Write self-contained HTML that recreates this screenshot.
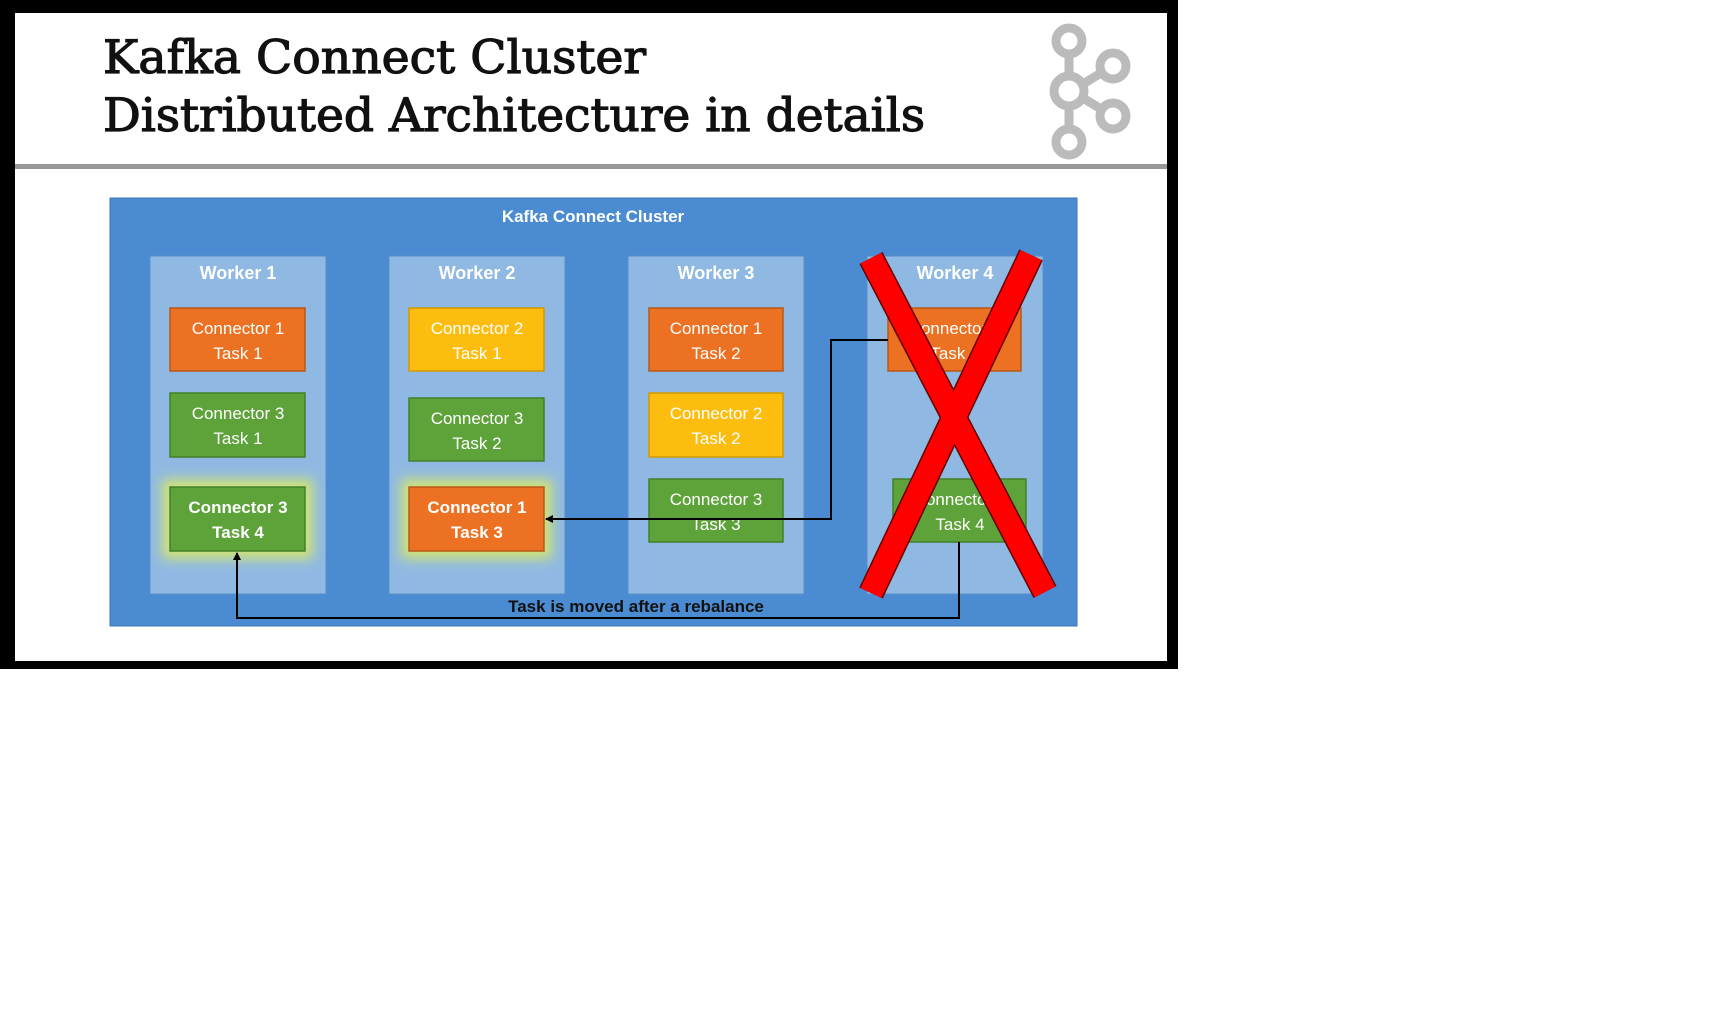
<!DOCTYPE html>
<html><head><meta charset="utf-8"><style>
html,body{margin:0;padding:0;background:#fff;}
svg{display:block}
</style></head><body>
<svg width="1713" height="1022" xmlns="http://www.w3.org/2000/svg" font-family="Liberation Sans, sans-serif">
<defs>
<filter id="glow" x="-30%" y="-30%" width="160%" height="160%"><feGaussianBlur stdDeviation="6"/></filter>
<marker id="ar" markerWidth="8" markerHeight="8" refX="7" refY="4" orient="auto" markerUnits="userSpaceOnUse"><path d="M0,0 L8,4 L0,8 z" fill="#000"/></marker>
</defs>
<rect x="0" y="0" width="1178" height="669" fill="#000"/>
<rect x="15" y="13" width="1152" height="648" fill="#fff"/>
<text x="103" y="73" font-family="DejaVu Serif, Liberation Serif, serif" font-size="46" fill="#111" stroke="#111" stroke-width="1.2" textLength="543" lengthAdjust="spacingAndGlyphs">Kafka Connect Cluster</text>
<text x="103" y="131" font-family="DejaVu Serif, Liberation Serif, serif" font-size="46" fill="#111" stroke="#111" stroke-width="1.2" textLength="822" lengthAdjust="spacingAndGlyphs">Distributed Architecture in details</text>
<rect x="15" y="164" width="1152" height="5" fill="#999"/>
<g fill="none" stroke="#bbb" stroke-width="9">
<circle cx="1069" cy="41" r="13"/><circle cx="1069" cy="91" r="15"/><circle cx="1069" cy="142" r="13"/>
<circle cx="1113" cy="66" r="13"/><circle cx="1113" cy="116" r="13"/>
<line x1="1069" y1="54" x2="1069" y2="76"/><line x1="1069" y1="106" x2="1069" y2="129"/>
<line x1="1083" y1="84" x2="1101" y2="73"/><line x1="1083" y1="98" x2="1101" y2="109"/>
</g>
<rect x="110" y="198" width="967" height="428" fill="#4a8bd1" stroke="#3a75b5"/>
<text x="593" y="222" text-anchor="middle" font-size="17" font-weight="bold" fill="#fff">Kafka Connect Cluster</text>
<g fill="#8fb9e2" stroke="#5a8fc8">
<rect x="150" y="256" width="176" height="338"/><rect x="389" y="256" width="176" height="338"/>
<rect x="628" y="256" width="176" height="338"/><rect x="867" y="256" width="176" height="338"/>
</g>
<g font-size="18" font-weight="bold" fill="#fff" text-anchor="middle">
<text x="238" y="279">Worker 1</text><text x="477" y="279">Worker 2</text><text x="716" y="279">Worker 3</text><text x="955" y="279">Worker 4</text>
</g>
<rect x="162" y="479" width="151" height="80" fill="#d8e86a" filter="url(#glow)" opacity="0.9"/>
<rect x="401" y="479" width="151" height="80" fill="#d8e86a" filter="url(#glow)" opacity="0.9"/>
<g stroke-width="1.5" font-size="17" text-anchor="middle">
<rect x="170" y="308" width="135" height="63" fill="#ec7122" stroke="#b85818"/>
<rect x="170" y="393" width="135" height="64" fill="#5ea23a" stroke="#44802a"/>
<rect x="170" y="487" width="135" height="64" fill="#5ea23a" stroke="#44802a"/>
<rect x="409" y="308" width="135" height="63" fill="#fdbd0f" stroke="#d09a00"/>
<rect x="409" y="398" width="135" height="63" fill="#5ea23a" stroke="#44802a"/>
<rect x="409" y="487" width="135" height="64" fill="#ec7122" stroke="#b85818"/>
<rect x="649" y="308" width="134" height="63" fill="#ec7122" stroke="#b85818"/>
<rect x="649" y="393" width="134" height="64" fill="#fdbd0f" stroke="#d09a00"/>
<rect x="649" y="479" width="134" height="63" fill="#5ea23a" stroke="#44802a"/>
<rect x="888" y="308" width="133" height="63" fill="#ec7122" stroke="#b85818"/>
<rect x="893" y="479" width="133" height="63" fill="#5ea23a" stroke="#44802a"/>
</g>
<g font-size="17" fill="#fff" text-anchor="middle">
<text x="238" y="334">Connector 1</text><text x="238" y="359">Task 1</text>
<text x="238" y="419">Connector 3</text><text x="238" y="444">Task 1</text>
<text x="238" y="513" font-weight="bold">Connector 3</text><text x="238" y="538" font-weight="bold">Task 4</text>
<text x="477" y="334">Connector 2</text><text x="477" y="359">Task 1</text>
<text x="477" y="424">Connector 3</text><text x="477" y="449">Task 2</text>
<text x="477" y="513" font-weight="bold">Connector 1</text><text x="477" y="538" font-weight="bold">Task 3</text>
<text x="716" y="334">Connector 1</text><text x="716" y="359">Task 2</text>
<text x="716" y="419">Connector 2</text><text x="716" y="444">Task 2</text>
<text x="716" y="505">Connector 3</text><text x="716" y="530">Task 3</text>
<text x="955" y="334">Connector 1</text><text x="955" y="359">Task 1</text>
<text x="960" y="505">Connector 3</text><text x="960" y="530">Task 4</text>
</g>
<g fill="none" stroke="#000" stroke-width="2">
<polyline points="888,340 831,340 831,519 546,519" marker-end="url(#ar)"/>
<polyline points="959,542 959,618 237,618 237,553" marker-end="url(#ar)"/>
</g>
<text x="636" y="612" text-anchor="middle" font-size="17" font-weight="bold" fill="#111">Task is moved after a rebalance</text>
<g stroke-linecap="butt">
<line x1="871" y1="258" x2="1045" y2="592" stroke="#600" stroke-width="26"/>
<line x1="1031" y1="255" x2="871" y2="593" stroke="#600" stroke-width="26"/>
<line x1="871" y1="258" x2="1045" y2="592" stroke="#ff0000" stroke-width="23"/>
<line x1="1031" y1="255" x2="871" y2="593" stroke="#ff0000" stroke-width="23"/>
</g>
</svg>
</body></html>
